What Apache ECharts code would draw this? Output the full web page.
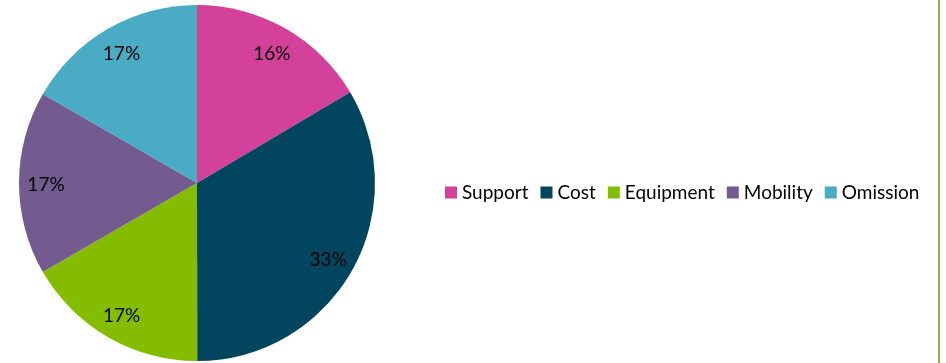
<!DOCTYPE html>
<html><head><meta charset="utf-8">
<script src="https://cdn.jsdelivr.net/npm/echarts@6/dist/echarts.min.js"></script>
<style>html,body{margin:0;padding:0;background:#fff}#c{width:946px;height:363px}</style>
</head><body><div id="c"></div>
<script>
const categories = ['Support', 'Cost', 'Equipment', 'Mobility', 'Omission'];
const values = [16.49, 33.49, 16.68, 16.67, 16.67];
const colors = ['#D4419A', '#02455E', '#84BD00', '#735B8F', '#4AABC4'];

const chart = echarts.init(document.getElementById('c'), null, {renderer: 'canvas'});
const data = categories.map((n, i) => ({name: n, value: values[i]}));
const font = 'Lato, "Open Sans", sans-serif';
chart.setOption({
  animation: false,
  color: colors,
  legend: {
    data: categories,
    left: 440, top: 178,
    orient: 'horizontal',
    icon: 'rect', itemWidth: 12, itemHeight: 12, itemGap: 12,
    textStyle: {fontFamily: font, fontSize: 19, color: '#000'},
    selectedMode: false
  },
  graphic: [{type: 'rect', shape: {x: 938, y: 0, width: 2, height: 363}, style: {fill: '#8DB03F'}}],
  series: [{
    type: 'pie', center: [197, 183], radius: [0, 178], startAngle: 90, clockwise: true,
    data: data, label: {show: false}, labelLine: {show: false}, silent: true
  }, {
    type: 'pie', center: [197, 185], radius: [118, 178], startAngle: 90, clockwise: true,
    data: data, silent: true,
    itemStyle: {color: 'rgba(0,0,0,0)'},
    label: {show: true, position: 'inside', color: '#000', fontFamily: font, fontSize: 19,
      formatter: p => Math.round(p.percent) + '%'},
    labelLine: {show: false}
  }]
});
</script></body></html>
